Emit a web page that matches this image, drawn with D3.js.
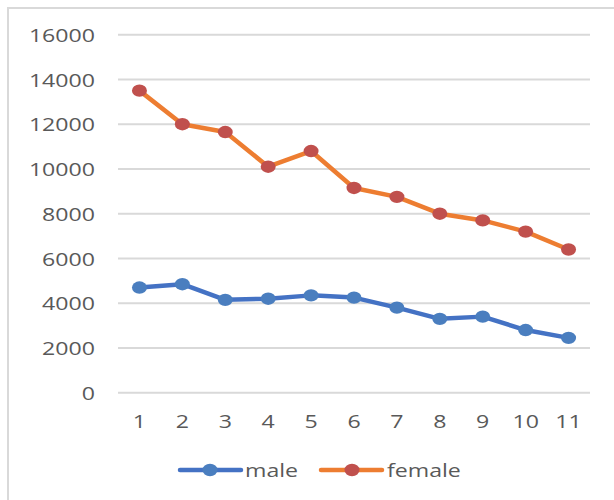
<!DOCTYPE html>
<html><head><meta charset="utf-8">
<script src="https://cdn.jsdelivr.net/npm/d3@7"></script>
<style>html,body{margin:0;padding:0;background:#fff;overflow:hidden}</style>
</head><body>
<svg id="c" width="614" height="500"></svg>
<script>
const categories = ["1","2","3","4","5","6","7","8","9","10","11"];
const male = [4700,4850,4150,4200,4350,4250,3800,3300,3400,2800,2450];
const female = [13500,12000,11650,10100,10800,9150,8750,8000,7700,7200,6400];
const yTicks = [0,2000,4000,6000,8000,10000,12000,14000,16000];
const seriesNames = ["male","female"];

const svg = d3.select("#c");
const SX = 1.25; // horizontal stretch of the original picture
const font = "'Open Sans', 'Noto Sans', sans-serif";
const fs = 18.5;
const txtColor = "#595959";

svg.append("rect").attr("x",8).attr("y",8).attr("width",640).attr("height",540)
  .attr("fill","#fff").attr("stroke","#d9d9d9").attr("stroke-width",2);

const x = d3.scaleBand().domain(categories).range([118,590]);
const y = d3.scaleLinear().domain([0,16000]).range([392.7,34.7]);

// gridlines
svg.append("g").selectAll("line").data(yTicks).join("line")
  .attr("x1",118).attr("x2",590)
  .attr("y1",d=>y(d)).attr("y2",d=>y(d))
  .attr("stroke","#d9d9d9").attr("stroke-width",2);

// y labels
svg.append("g").selectAll("text").data(yTicks).join("text")
  .attr("transform",d=>`translate(95,${y(d)}) scale(${SX},1)`)
  .attr("text-anchor","end").attr("dominant-baseline","central")
  .attr("font-family",font).attr("font-size",fs).attr("fill",txtColor)
  .text(d=>d);

// x labels
svg.append("g").selectAll("text").data(categories).join("text")
  .attr("transform",d=>`translate(${x(d)+x.bandwidth()/2},421) scale(${SX},1)`)
  .attr("text-anchor","middle").attr("dominant-baseline","central")
  .attr("font-family",font).attr("font-size",fs).attr("fill",txtColor)
  .text(d=>d);

const cx = d=>x(d)+x.bandwidth()/2;
const line = d3.line().x((d,i)=>cx(categories[i])).y(d=>y(d));

const series = [
  {name:seriesNames[0], values:male, line:"#4472C4", marker:"#4A7EBF"},
  {name:seriesNames[1], values:female, line:"#ED7D31", marker:"#C0504D"}
];

series.forEach(s=>{
  svg.append("path").datum(s.values).attr("d",line)
    .attr("fill","none").attr("stroke",s.line).attr("stroke-width",4.5)
    .attr("stroke-linejoin","round").attr("stroke-linecap","round");
  svg.append("g").selectAll("ellipse").data(s.values).join("ellipse")
    .attr("cx",(d,i)=>cx(categories[i])).attr("cy",d=>y(d))
    .attr("rx",7.5).attr("ry",6.2).attr("fill",s.marker);
});

// legend
const legendY = 470;
const legendItems = [
  {x1:180,x2:241,mx:210,tx:245},
  {x1:321,x2:382,mx:352,tx:387}
];
series.forEach((s,i)=>{
  const L = legendItems[i];
  const g = svg.append("g");
  g.append("line").attr("x1",L.x1).attr("x2",L.x2).attr("y1",legendY).attr("y2",legendY)
    .attr("stroke",s.line).attr("stroke-width",4.5).attr("stroke-linecap","round");
  g.append("ellipse").attr("cx",L.mx).attr("cy",legendY).attr("rx",7.5).attr("ry",6.2).attr("fill",s.marker);
  g.append("text").attr("transform",`translate(${L.tx},${legendY}) scale(${SX},1)`)
    .attr("dominant-baseline","central")
    .attr("font-family",font).attr("font-size",fs).attr("fill",txtColor)
    .text(s.name);
});
</script>
</body></html>
